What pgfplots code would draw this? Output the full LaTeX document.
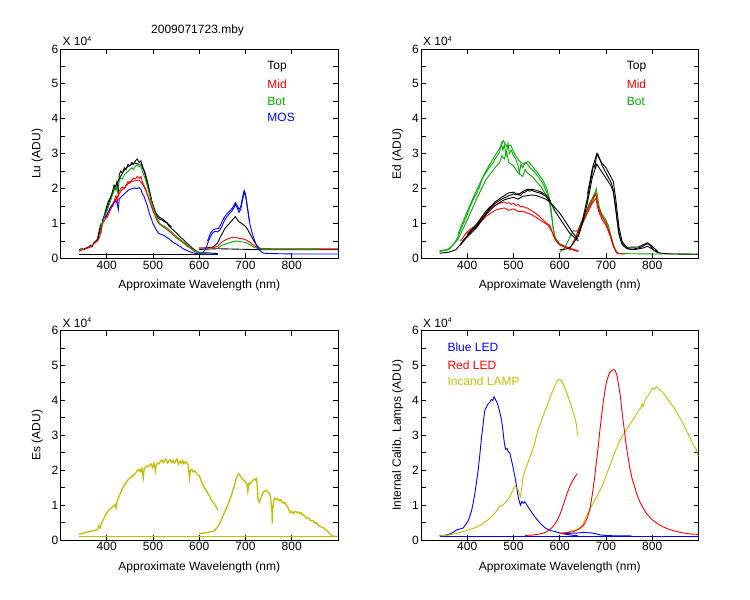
\documentclass[border=0pt]{standalone}
\usepackage{fontspec}
\setmainfont{Liberation Sans}
\usepackage{pgfplots}
\pgfplotsset{compat=1.18}
\definecolor{lgreen}{RGB}{0,170,0}
\definecolor{lred}{RGB}{255,0,0}
\definecolor{lblue}{RGB}{0,0,255}
\definecolor{lolive}{RGB}{191,191,0}
\tikzset{lab/.style={font=\fontsize{12}{14}\selectfont, anchor=west, inner sep=0pt}}
\pgfplotsset{
  panel/.style={
    scale only axis, width=277.5pt, height=209.5pt, anchor=south west,
    xmin=300, xmax=900, ymin=0, ymax=6, clip mode=individual,
    xtick={400,500,600,700,800}, xticklabels={400,500,600,700,800},
    ytick={0,1,2,3,4,5,6}, yticklabels={0,1,2,3,4,5,6},
    minor ytick={0.5,1.5,2.5,3.5,4.5,5.5},
    tick align=inside, major tick length=5pt, minor tick length=5pt,
    tick style={black, line width=0.9pt},
    axis line style={line width=0.9pt},
    ticklabel style={font=\fontsize{12}{14}\selectfont, inner sep=2pt},
    label style={font=\fontsize{12}{14}\selectfont},
    xlabel={Approximate Wavelength (nm)},
    xlabel style={at={(axis description cs:0.5,-0.129)}, anchor=center},
    ylabel style={at={(axis description cs:-0.084,0.5)}, anchor=center},
    every axis plot/.append style={line width=0.9pt, no marks},
  },
}
\newcommand{\xten}{\node[lab] at (axis description cs:0.007,1.038) {X 10\textsuperscript{\scriptsize 4}};}
\begin{document}
\begin{tikzpicture}
\useasboundingbox (0,0) rectangle (750pt,600pt);
% ---------------- Lu ----------------
\begin{axis}[panel, at={(60.5pt,341.5pt)}, ylabel={Lu (ADU)}]
\xten
\node[font=\fontsize{12}{14}\selectfont] at (axis description cs:0.494,1.091) {2009071723.mby};
\node[lab, text=black] at (axis description cs:0.745,0.9155) {Top};
\node[lab, text=lred] at (axis description cs:0.745,0.834) {Mid};
\node[lab, text=lgreen] at (axis description cs:0.745,0.752) {Bot};
\node[lab, text=lblue] at (axis description cs:0.745,0.672) {MOS};
% black baseline
\addplot[black] coordinates {(340,0.12)(640,0.12)};
% Top (black)
\addplot[black] coordinates {(340,0.25)(345,0.28)(350,0.27)(355,0.3)(360,0.32)(365,0.38)(368,0.33)(372,0.45)(376,0.5)(380,0.55)(383,0.75)(386,0.95)(388,0.8)(391,1.1)(395,1.25)(400,1.5)(404,1.65)(408,1.75)(412,1.9)(416,2.1)(419,2.0)(422,2.2)(425,1.95)(427,2.4)(430,2.5)(434,2.45)(438,2.6)(442,2.55)(446,2.7)(450,2.65)(454,2.75)(458,2.7)(462,2.8)(466,2.85)(470,2.75)(474,2.8)(477,2.6)(480,2.55)(484,2.4)(488,2.2)(492,1.95)(496,1.7)(500,1.5)(504,1.35)(508,1.22)(512,1.15)(516,1.12)(520,1.1)(525,1.05)(530,1.02)(535,0.92)(540,0.86)(545,0.8)(550,0.74)(555,0.67)(560,0.6)(565,0.55)(570,0.48)(575,0.42)(580,0.36)(585,0.3)(590,0.25)(595,0.2)(600,0.18)(610,0.16)(620,0.16)(630,0.15)(640,0.14)};
\addplot[black] coordinates {(380,0.5)(386,0.85)(390,1.0)(400,1.42)(410,1.78)(420,2.1)(428,2.3)(436,2.5)(444,2.62)(452,2.68)(460,2.74)(468,2.7)(476,2.7)(482,2.45)(490,2.05)(498,1.62)(506,1.3)(514,1.18)(522,1.12)(532,1.0)(540,0.9)};
\addplot[black] coordinates {(600,0.3)(610,0.3)(620,0.31)(630,0.33)(640,0.45)(645,0.6)(650,0.72)(655,0.85)(660,0.93)(665,1.0)(670,1.08)(675,1.15)(678,1.2)(682,1.12)(686,1.05)(690,1.02)(695,0.97)(700,0.92)(705,0.82)(710,0.7)(715,0.58)(720,0.46)(725,0.36)(730,0.3)(735,0.28)(740,0.28)(760,0.27)(800,0.27)(850,0.27)(900,0.27)};
\addplot[black] coordinates {(600,0.26)(640,0.28)(740,0.25)(900,0.25)};
% Mid (red)
\addplot[lred] coordinates {(340,0.2)(345,0.24)(350,0.25)(355,0.28)(360,0.3)(365,0.33)(370,0.4)(375,0.45)(380,0.5)(384,0.6)(387,0.75)(390,0.95)(393,1.05)(396,1.1)(400,1.2)(404,1.35)(408,1.48)(412,1.55)(416,1.65)(420,1.8)(423,1.6)(426,1.9)(430,2.0)(434,2.05)(438,2.0)(442,2.1)(446,2.2)(450,2.15)(454,2.25)(458,2.3)(462,2.28)(466,2.35)(470,2.3)(474,2.35)(477,2.2)(480,2.1)(484,2.0)(488,1.82)(492,1.7)(496,1.52)(500,1.38)(505,1.2)(510,1.05)(515,0.97)(520,0.93)(525,0.88)(530,0.83)(535,0.78)(540,0.72)(545,0.66)(550,0.6)(555,0.55)(560,0.5)(565,0.45)(570,0.4)(575,0.34)(580,0.3)(585,0.25)(590,0.2)(595,0.18)(600,0.17)(610,0.16)(620,0.16)};
\addplot[lred] coordinates {(400,1.15)(410,1.45)(420,1.7)(430,1.92)(440,2.05)(450,2.2)(460,2.22)(470,2.25)(478,2.12)(486,1.9)(494,1.6)(502,1.3)};
\addplot[lred] coordinates {(600,0.3)(620,0.3)(630,0.31)(640,0.35)(645,0.42)(650,0.48)(655,0.52)(660,0.55)(665,0.58)(670,0.6)(675,0.61)(680,0.6)(685,0.58)(690,0.57)(695,0.56)(700,0.54)(705,0.5)(710,0.46)(715,0.4)(720,0.36)(725,0.32)(730,0.28)(740,0.27)(800,0.27)(900,0.27)};
% Bot (green)
\addplot[lgreen] coordinates {(385,0.85)(390,1.0)(395,1.2)(400,1.35)(404,1.5)(408,1.65)(412,1.8)(416,1.95)(420,2.05)(423,1.9)(426,2.2)(430,2.3)(434,2.28)(438,2.4)(442,2.45)(446,2.5)(450,2.55)(454,2.6)(458,2.55)(462,2.65)(466,2.68)(470,2.62)(474,2.66)(477,2.5)(480,2.4)(484,2.25)(488,2.05)(492,1.85)(496,1.65)(500,1.48)(505,1.28)(510,1.12)(515,1.0)(520,0.95)(525,0.92)(530,0.88)(535,0.82)(540,0.76)(545,0.7)(550,0.64)(555,0.58)(560,0.53)(565,0.48)(570,0.43)(575,0.37)(580,0.31)(585,0.26)(590,0.22)(595,0.19)(600,0.17)(620,0.16)};
\addplot[lgreen] coordinates {(640,0.3)(645,0.34)(650,0.38)(660,0.43)(670,0.47)(680,0.5)(690,0.48)(700,0.46)(705,0.43)(710,0.39)(715,0.35)(720,0.31)(730,0.28)(740,0.27)(800,0.27)(860,0.27)};
% MOS (blue)
\addplot[lblue] coordinates {(395,1.15)(400,1.25)(404,1.35)(408,1.45)(412,1.5)(416,1.6)(420,1.65)(423,1.55)(425,1.4)(427,1.7)(430,1.75)(434,1.8)(438,1.85)(442,1.9)(446,1.95)(450,1.98)(455,2.0)(460,2.02)(465,2.0)(470,2.03)(474,1.98)(477,1.85)(480,1.8)(484,1.65)(488,1.5)(492,1.3)(496,1.15)(500,1.0)(504,0.9)(508,0.8)(512,0.72)(516,0.7)(520,0.68)(525,0.65)(530,0.6)(535,0.56)(540,0.5)(545,0.45)(550,0.42)(555,0.37)(560,0.33)(565,0.28)(570,0.25)(575,0.22)(580,0.19)(585,0.17)(590,0.15)(600,0.13)(620,0.12)(640,0.12)};
\addplot[lblue] coordinates {(600,0.15)(605,0.15)(610,0.2)(615,0.3)(620,0.5)(625,0.65)(630,0.75)(635,0.78)(640,0.76)(645,0.82)(650,0.95)(655,1.1)(660,1.2)(665,1.28)(670,1.35)(675,1.45)(678,1.55)(682,1.45)(686,1.32)(690,1.42)(694,1.7)(697,1.9)(700,1.8)(703,1.55)(707,1.2)(710,0.95)(715,0.7)(720,0.5)(725,0.35)(730,0.25)(735,0.18)(740,0.15)(760,0.14)(800,0.13)(900,0.13)};
\addplot[lblue] coordinates {(618,0.5)(624,0.72)(630,0.82)(636,0.85)(642,0.86)(648,1.02)(654,1.18)(660,1.28)(666,1.36)(672,1.45)(678,1.6)(682,1.52)(686,1.4)(690,1.5)(694,1.78)(697,1.95)(700,1.85)(704,1.5)(708,1.1)};
\end{axis}
% ---------------- Ed ----------------
\begin{axis}[panel, at={(421pt,341.5pt)}, ylabel={Ed (ADU)}]
\xten
\node[lab, text=black] at (axis description cs:0.741,0.9155) {Top};
\node[lab, text=lred] at (axis description cs:0.741,0.834) {Mid};
\node[lab, text=lgreen] at (axis description cs:0.741,0.752) {Bot};
% Bot green
\addplot[lgreen] coordinates {(340,0.22)(350,0.24)(360,0.28)(370,0.4)(375,0.5)(380,0.62)(385,0.8)(390,0.95)(395,1.1)(400,1.25)(405,1.45)(410,1.6)(415,1.75)(420,1.85)(425,2.0)(430,2.2)(435,2.35)(440,2.45)(445,2.55)(450,2.65)(455,2.72)(460,2.85)(465,2.95)(470,3.05)(474,3.3)(477,3.1)(480,3.25)(484,2.95)(488,3.3)(491,3.0)(495,3.1)(500,2.95)(505,2.85)(510,2.65)(513,2.45)(516,2.7)(520,2.6)(525,2.75)(530,2.7)(535,2.6)(540,2.55)(545,2.48)(550,2.4)(555,2.32)(560,2.22)(565,2.1)(570,1.95)(575,1.78)(580,1.55)(583,1.2)(586,0.85)(590,0.6)(595,0.48)(600,0.42)(610,0.35)(620,0.3)(630,0.25)(640,0.22)};
\addplot[lgreen] coordinates {(340,0.2)(360,0.25)(380,0.55)(400,1.1)(420,1.7)(440,2.25)(460,2.6)(470,2.75)(475,2.95)(480,2.85)(485,3.05)(490,2.75)(500,2.65)(510,2.45)(520,2.35)(525,2.55)(530,2.45)(540,2.35)(550,2.2)(560,2.05)(570,1.82)(578,1.6)(582,1.25)(586,0.85)(590,0.6)(600,0.42)(620,0.3)(640,0.22)};
\addplot[lgreen] coordinates {(380,0.7)(400,1.35)(420,1.95)(440,2.5)(460,2.95)(470,3.15)(478,3.38)(486,3.2)(494,3.25)(502,3.0)(512,2.8)(522,2.7)(532,2.78)(542,2.62)(552,2.45)(562,2.28)(572,2.0)(580,1.6)};
\addplot[lgreen] coordinates {(600,0.18)(610,0.3)(615,0.42)(620,0.55)(625,0.7)(630,0.8)(635,0.78)(640,0.82)(645,1.0)(650,1.15)(655,1.3)(660,1.45)(665,1.6)(670,1.72)(675,1.85)(679,2.0)(682,1.75)(685,1.5)(690,1.3)(695,1.2)(700,1.1)(705,0.95)(710,0.7)(715,0.45)(720,0.25)(725,0.16)(730,0.14)(800,0.13)(900,0.13)};
\addplot[lgreen] coordinates {(640,0.75)(650,1.05)(660,1.35)(670,1.62)(678,1.85)(684,1.4)(692,1.18)(700,1.02)(708,0.72)(716,0.35)(724,0.15)};
% Mid red
\addplot[lred] coordinates {(385,0.5)(390,0.58)(395,0.68)(400,0.76)(405,0.82)(410,0.87)(415,0.92)(420,0.97)(425,1.05)(430,1.12)(435,1.2)(440,1.28)(445,1.35)(450,1.42)(455,1.48)(460,1.52)(465,1.55)(470,1.58)(475,1.6)(480,1.62)(485,1.58)(490,1.6)(495,1.55)(500,1.58)(505,1.52)(510,1.55)(515,1.48)(520,1.5)(525,1.45)(530,1.45)(535,1.4)(540,1.36)(545,1.32)(550,1.27)(555,1.22)(560,1.15)(565,1.1)(570,1.02)(575,0.98)(580,0.92)(583,0.78)(586,0.68)(590,0.55)(595,0.45)(600,0.4)(610,0.34)(620,0.3)(630,0.25)(640,0.22)};
\addplot[lred] coordinates {(400,0.72)(420,0.92)(440,1.2)(460,1.38)(470,1.42)(480,1.45)(490,1.38)(500,1.42)(510,1.35)(520,1.35)(530,1.3)(540,1.25)(560,1.08)(575,0.95)(582,0.8)(590,0.55)(600,0.38)(620,0.28)(640,0.2)};
\addplot[lred] coordinates {(620,0.24)(625,0.35)(630,0.5)(635,0.62)(640,0.82)(645,0.95)(650,1.12)(655,1.28)(660,1.4)(665,1.55)(670,1.68)(675,1.8)(678,1.87)(681,1.65)(684,1.45)(688,1.32)(692,1.2)(697,1.1)(702,0.95)(706,0.8)(710,0.65)(714,0.45)(718,0.3)(722,0.18)(726,0.14)(740,0.13)};
\addplot[lred] coordinates {(640,0.72)(650,1.02)(660,1.3)(670,1.58)(678,1.72)(684,1.35)(692,1.1)(700,0.95)(708,0.68)(716,0.35)(724,0.15)};
% Top black
\addplot[black] coordinates {(340,0.15)(360,0.18)(375,0.25)(380,0.32)(385,0.4)(390,0.5)(395,0.58)(400,0.65)(405,0.72)(410,0.8)(415,0.86)(420,0.92)(425,1.02)(430,1.12)(435,1.2)(440,1.3)(445,1.38)(450,1.46)(455,1.52)(460,1.58)(465,1.62)(470,1.66)(475,1.7)(480,1.74)(485,1.76)(490,1.8)(495,1.82)(500,1.85)(505,1.82)(510,1.86)(515,1.8)(520,1.88)(525,1.9)(530,1.95)(535,1.93)(540,1.95)(545,1.92)(550,1.9)(555,1.88)(560,1.86)(565,1.82)(570,1.78)(575,1.7)(580,1.6)(585,1.48)(590,1.35)(595,1.25)(600,1.15)(605,1.05)(610,0.95)(615,0.85)(620,0.75)(625,0.68)(630,0.62)(635,0.56)(640,0.5)};
\addplot[black] coordinates {(385,0.38)(400,0.62)(420,0.88)(440,1.25)(460,1.52)(480,1.68)(490,1.72)(500,1.75)(510,1.7)(520,1.78)(530,1.8)(540,1.82)(550,1.8)(560,1.75)(570,1.7)(580,1.6)(590,1.45)(600,1.3)(610,1.1)(620,0.9)(630,0.7)(640,0.55)};
\addplot[black] coordinates {(400,0.68)(420,0.98)(440,1.35)(460,1.62)(480,1.8)(490,1.88)(500,1.9)(510,1.82)(520,1.92)(530,1.98)(540,1.98)(550,1.95)(560,1.9)(570,1.82)(580,1.65)};
\addplot[black] coordinates {(600,0.25)(610,0.26)(620,0.3)(625,0.36)(630,0.45)(635,0.55)(640,0.7)(645,0.9)(650,1.15)(655,1.45)(660,1.75)(665,2.1)(670,2.45)(673,2.7)(676,2.6)(679,2.9)(682,3.0)(685,2.9)(688,2.8)(692,2.65)(696,2.55)(700,2.45)(704,2.35)(708,2.25)(712,2.15)(715,2.0)(718,1.75)(721,1.45)(724,1.1)(727,0.8)(731,0.55)(735,0.42)(740,0.35)(745,0.3)(750,0.28)(755,0.27)(760,0.27)(765,0.29)(770,0.3)(775,0.32)(780,0.35)(785,0.4)(790,0.42)(795,0.38)(800,0.3)(805,0.22)(810,0.18)(820,0.15)(840,0.13)(900,0.12)};
\addplot[black] coordinates {(640,0.62)(650,1.05)(660,1.6)(670,2.3)(675,2.5)(680,2.7)(690,2.5)(700,2.3)(710,2.1)(716,1.9)(722,1.3)(728,0.7)(735,0.4)(745,0.28)(760,0.25)(780,0.3)(790,0.35)(800,0.27)(815,0.16)};
\addplot[black] coordinates {(660,1.85)(670,2.55)(680,3.0)(690,2.75)(700,2.6)(710,2.35)(716,2.2)(722,1.6)(728,0.9)(735,0.48)(745,0.32)(770,0.33)(790,0.45)(800,0.35)(812,0.2)};
\end{axis}
% ---------------- Es ----------------
\begin{axis}[panel, at={(60.5pt,60pt)}, ylabel={Es (ADU)}]
\xten
\addplot[lolive] coordinates {(340,0.11)(900,0.11)};
\addplot[lolive, line width=1.3pt] coordinates {(340,0.16)(345,0.18)(350,0.2)(355,0.22)(360,0.23)(365,0.25)(370,0.26)(375,0.28)(380,0.3)(383,0.4)(386,0.35)(388,0.45)(391,0.55)(394,0.62)(397,0.72)(400,0.78)(403,0.83)(406,0.88)(409,0.9)(412,0.95)(415,0.98)(418,1.02)(420,0.92)(422,1.08)(425,1.2)(428,1.3)(431,1.38)(434,1.48)(437,1.55)(440,1.62)(443,1.66)(446,1.72)(449,1.76)(452,1.8)(455,1.82)(458,1.86)(461,1.9)(464,1.95)(467,2.0)(470,2.02)(473,1.96)(476,2.05)(479,1.78)(481,2.05)(484,2.08)(487,2.12)(490,2.1)(493,2.15)(496,2.18)(499,2.08)(502,2.2)(505,1.98)(507,2.15)(510,2.2)(513,2.18)(516,2.25)(519,2.3)(522,2.22)(525,2.28)(528,2.32)(531,2.2)(534,2.26)(537,2.3)(540,2.22)(543,2.28)(546,2.2)(549,2.26)(552,2.32)(555,2.18)(558,2.25)(561,2.2)(564,2.28)(567,2.18)(570,2.24)(573,2.2)(576,2.15)(579,1.78)(581,2.0)(584,2.02)(587,1.95)(590,1.98)(593,1.92)(596,1.88)(599,1.85)(602,1.78)(605,1.65)(608,1.58)(611,1.5)(614,1.45)(617,1.38)(620,1.3)(623,1.25)(626,1.15)(629,1.08)(632,1.05)(635,0.98)(638,0.92)(640,0.85)};
\addplot[lolive, line width=1.3pt] coordinates {(600,0.19)(610,0.2)(620,0.22)(630,0.25)(635,0.3)(640,0.38)(645,0.5)(650,0.65)(655,0.8)(660,0.95)(665,1.12)(670,1.3)(673,1.45)(676,1.55)(679,1.72)(682,1.82)(685,1.9)(688,1.85)(691,1.78)(694,1.75)(697,1.7)(700,1.68)(703,1.6)(705,1.4)(707,1.62)(710,1.6)(713,1.66)(716,1.7)(719,1.75)(722,1.72)(724,1.76)(726,1.4)(727,1.15)(730,1.08)(733,1.2)(736,1.3)(739,1.38)(742,1.4)(745,1.42)(748,1.38)(751,1.35)(754,1.25)(757,0.85)(758,0.48)(759,0.9)(761,1.15)(764,1.2)(767,1.15)(770,1.18)(773,1.12)(776,1.15)(779,1.1)(782,1.05)(785,1.08)(788,1.0)(791,0.95)(794,0.85)(797,0.78)(800,0.82)(803,0.76)(806,0.8)(809,0.82)(812,0.78)(815,0.8)(818,0.75)(821,0.78)(824,0.72)(827,0.7)(830,0.65)(833,0.62)(836,0.64)(839,0.58)(842,0.55)(845,0.56)(848,0.52)(851,0.48)(854,0.5)(857,0.42)(860,0.4)(863,0.38)(866,0.36)(869,0.35)(872,0.3)(875,0.28)(878,0.25)(881,0.2)(884,0.16)(887,0.12)(890,0.11)(900,0.11)};
\end{axis}
% ---------------- Internal calib ----------------
\begin{axis}[panel, at={(421pt,60pt)}, ylabel={Internal Calib. Lamps (ADU)}]
\xten
\node[lab, text=lblue] at (axis description cs:0.095,0.918) {Blue LED};
\node[lab, text=lred] at (axis description cs:0.095,0.832) {Red LED};
\node[lab, text=lolive] at (axis description cs:0.095,0.756) {Incand LAMP};
\addplot[lblue] coordinates {(340,0.1)(900,0.1)};
\addplot[lblue] coordinates {(340,0.12)(350,0.13)(360,0.16)(370,0.22)(377,0.29)(385,0.32)(391,0.34)(397,0.45)(402,0.55)(406,0.7)(409,0.82)(412,1.0)(416,1.3)(420,1.65)(424,2.05)(428,2.55)(431,2.95)(435,3.4)(438,3.72)(441,3.8)(445,3.9)(449,3.95)(452,4.02)(455,4.0)(458,4.1)(461,4.02)(464,3.95)(467,3.83)(470,3.68)(474,3.45)(477,3.15)(480,2.8)(483,2.6)(486,2.62)(489,2.52)(492,2.5)(495,2.32)(498,2.15)(501,1.95)(504,1.75)(507,1.5)(510,1.25)(513,1.08)(515,1.0)(518,1.1)(521,1.05)(524,1.1)(527,1.05)(530,0.98)(535,0.88)(540,0.78)(545,0.68)(550,0.6)(555,0.52)(560,0.45)(565,0.39)(570,0.33)(575,0.3)(580,0.27)(590,0.24)(600,0.2)(610,0.17)(620,0.15)(630,0.13)(640,0.12)};
\addplot[lblue] coordinates {(600,0.19)(620,0.19)(640,0.2)(650,0.22)(660,0.21)(670,0.2)(680,0.17)(690,0.14)(700,0.13)(720,0.12)(755,0.12)};
\addplot[lolive] coordinates {(340,0.12)(355,0.13)(370,0.17)(380,0.2)(391,0.24)(400,0.28)(413,0.33)(425,0.4)(434,0.48)(445,0.58)(456,0.72)(464,0.84)(470,0.96)(476,1.0)(481,1.05)(487,1.15)(492,1.24)(497,1.38)(503,1.53)(507,1.5)(510,1.44)(513,1.3)(515,1.24)(518,1.5)(521,1.82)(524,1.95)(528,2.1)(532,2.25)(536,2.4)(539,2.49)(542,2.62)(546,2.78)(550,3.0)(553,3.16)(557,3.28)(561,3.45)(564,3.54)(568,3.7)(572,3.82)(575,3.92)(579,4.08)(582,4.18)(586,4.3)(590,4.42)(593,4.52)(596,4.58)(600,4.6)(604,4.56)(608,4.45)(611,4.36)(614,4.26)(618,4.1)(622,3.95)(625,3.86)(628,3.7)(632,3.54)(635,3.38)(637,3.2)(638,2.97)};
\addplot[lolive] coordinates {(600,0.19)(610,0.21)(621,0.24)(632,0.28)(643,0.34)(650,0.45)(657,0.66)(664,0.85)(672,1.05)(679,1.22)(686,1.39)(692,1.55)(697,1.72)(702,1.92)(708,2.1)(713,2.3)(718,2.49)(724,2.66)(729,2.82)(736,3.0)(744,3.16)(751,3.3)(758,3.44)(764,3.56)(769,3.68)(775,3.78)(778,3.9)(780,3.82)(783,3.95)(787,4.07)(790,4.12)(794,4.2)(798,4.3)(801,4.35)(805,4.32)(808,4.38)(812,4.36)(816,4.31)(821,4.24)(827,4.16)(832,4.06)(837,3.97)(845,3.82)(852,3.68)(859,3.52)(866,3.35)(873,3.16)(880,2.97)(886,2.8)(891,2.68)(895,2.6)(898,2.44)(900,2.42)};
\addplot[lred] coordinates {(525,0.13)(540,0.14)(557,0.17)(565,0.2)(572,0.24)(578,0.29)(585,0.38)(590,0.47)(595,0.58)(600,0.72)(605,0.9)(610,1.1)(615,1.3)(620,1.48)(625,1.63)(630,1.75)(635,1.85)(638,1.9)};
\addplot[lred] coordinates {(600,0.19)(615,0.21)(629,0.24)(640,0.3)(650,0.4)(655,0.5)(660,0.65)(665,0.88)(668,1.1)(672,1.45)(676,1.85)(679,2.2)(683,2.65)(686,3.05)(690,3.5)(694,3.95)(698,4.3)(701,4.52)(705,4.7)(708,4.8)(712,4.85)(717,4.88)(720,4.85)(724,4.7)(727,4.45)(731,4.12)(734,3.75)(737,3.42)(741,3.0)(744,2.68)(748,2.35)(751,2.1)(756,1.78)(762,1.52)(767,1.3)(773,1.1)(780,0.92)(787,0.77)(794,0.66)(801,0.57)(810,0.48)(823,0.38)(835,0.31)(845,0.27)(860,0.22)(873,0.19)(885,0.17)(900,0.16)};
\end{axis}
\end{tikzpicture}
\end{document}
